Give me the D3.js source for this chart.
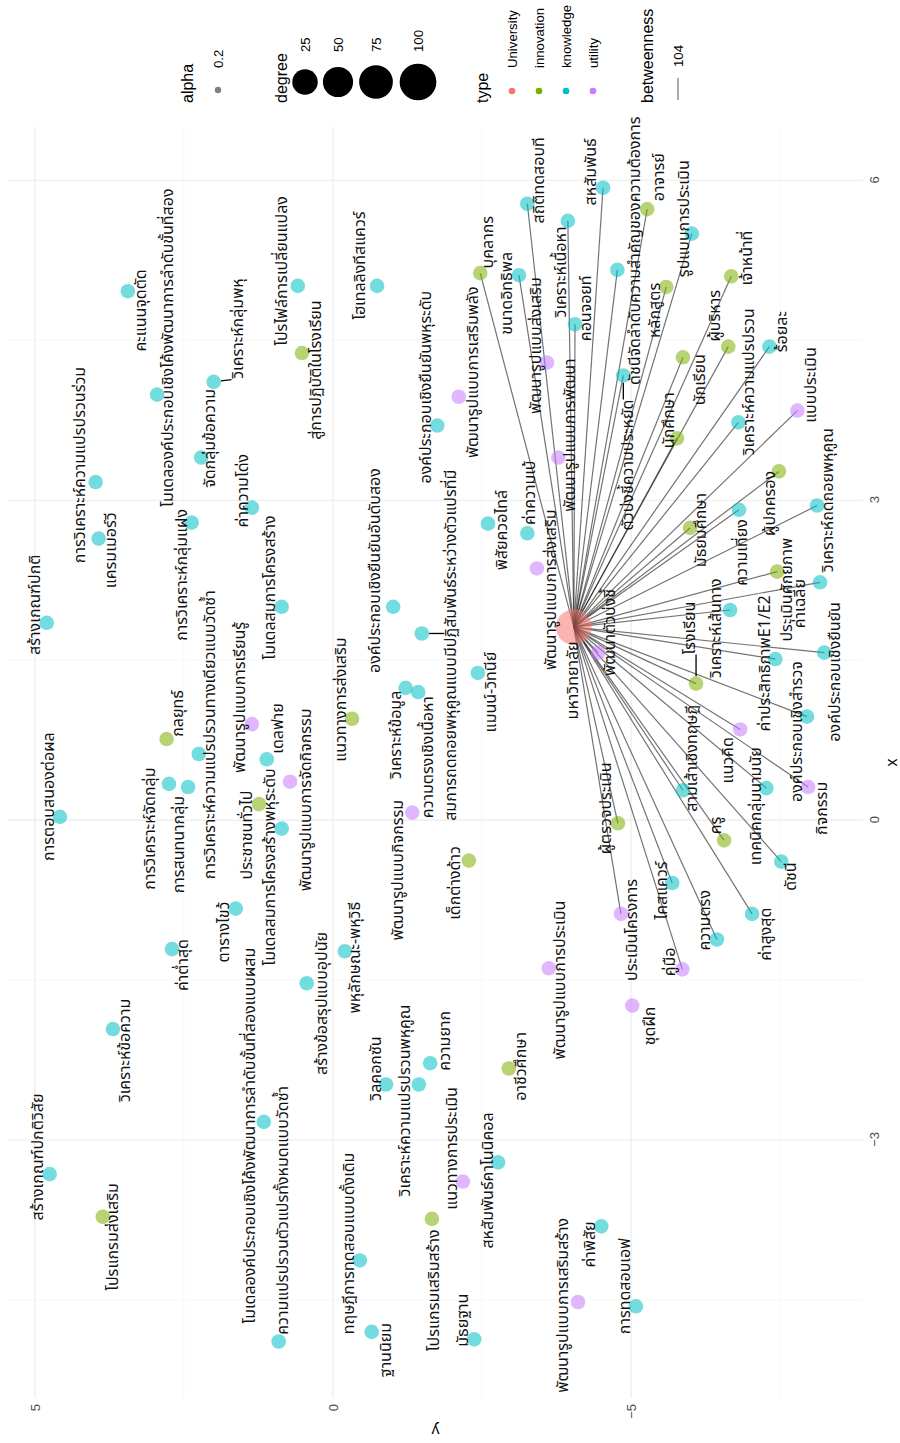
<!DOCTYPE html>
<html>
<head>
<meta charset="utf-8">
<script src="https://cdn.jsdelivr.net/npm/d3@7"></script>
<style>
  body { margin: 0; background: #fff; }
  text { font-family: "Liberation Sans", Arial, sans-serif; }
  .lab { font-family: "Noto Sans Thai", "Noto Sans", "DejaVu Sans", sans-serif; }
</style>
</head>
<body>
<div id="plot"></div>
<script>
// ---- data (layout coordinates from the graph layout) ----
const nodeNames = [
  'มหาวิทยาลัย', 'คะแนนจุดตัด', 'โมเดลองค์ประกอบเชิงโค้งพัฒนาการลำดับขั้นที่สอง', 'การวิเคราะห์ความแปรปรวนร่วม',
  'แครมเมอร์วี', 'การวิเคราะห์กลุ่มแฝง', 'จัดกลุ่มข้อความ', 'วิเคราะห์กลุ่มพหุ', 'ค่าความโด่ง', 'โปรไฟล์การเปลี่ยนแปลง',
  'สู่การปฏิบัติในโรงเรียน', 'โฮเทลลิงทีสแควร์', 'องค์ประกอบเชิงยืนยันพหุระดับ', 'องค์ประกอบเชิงยืนยันอันดับสอง',
  'โมเดลสมการโครงสร้าง', 'สร้างเกณฑ์ปกติ', 'สมการถดถอยพหุคูณแบบมีปฏิสัมพันธ์ระหว่างตัวแปรที่มี', 'วิเคราะห์ข้อมูล',
  'ความตรงเชิงเนื้อหา', 'พัฒนารูปแบบกิจกรรม', 'แนวทางการส่งเสริม', 'พัฒนารูปแบบการเรียนรู้', 'เดลฟาย',
  'พัฒนารูปแบบการจัดกิจกรรม', 'ประชาชนทั่วไป', 'โมเดลสมการโครงสร้างพหุระดับ', 'การวิเคราะห์ความแปรปรวนทางเดียวแบบวัดซ้ำ',
  'กลยุทธ์', 'การวิเคราะห์จัดกลุ่ม', 'การสนทนากลุ่ม', 'การตอบสนองต่อผล', 'ตารางไขว้', 'ค่าต่ำสุด', 'พหุลักษณะ-พหุวิธี',
  'สร้างข้อสรุปแบบอุปนัย', 'วิเคราะห์ข้อความ', 'สร้างเกณฑ์ปกติวิสัย', 'โปรแกรมส่งเสริม',
  'โมเดลองค์ประกอบเชิงโค้งพัฒนาการลำดับขั้นที่สองแบบผสม', 'ความแปรปรวนตัวแปรทั้งหมดแบบวัดซ้ำ', 'วิลคอกซัน',
  'วิเคราะห์ความแปรปรวนพหุคูณ', 'ความยาก', 'ทฤษฎีการทดสอบแบบดั้งเดิม', 'ฐานนิยม', 'โปรแกรมเสริมสร้าง', 'ชุดฝึก',
  'อาชีวศึกษา', 'พัฒนารูปแบบการประเมิน', 'แนวทางการประเมิน', 'สหสัมพันธ์คาโนนิคอล', 'มัธยฐาน', 'ค่าพิสัย',
  'พัฒนารูปแบบการเสริมสร้าง', 'การทดสอบเอฟ', 'พัฒนาตัวบ่งชี้', 'พัฒนารูปแบบการส่งเสริม', 'แมนน์-วิทนีย์',
  'เด็กต่างด้าว', 'พิสัยควอไทล์', 'ผู้ตรวจประเมิน', 'ประเมินโครงการ', 'ไคสแควร์', 'คู่มือ', 'ความตรง', 'ค่าสูงสุด',
  'ครู', 'ดัชนี', 'สามเส้าเชิงทฤษฎี', 'เทคนิคกลุ่มนามนัย', 'แนวคิด', 'กิจกรรม', 'โรงเรียน', 'วิเคราะห์เส้นทาง',
  'ค่าประสิทธิภาพE1/E2', 'องค์ประกอบเชิงสำรวจ', 'องค์ประกอบเชิงยืนยัน', 'ค่าเฉลี่ย', 'ประเมินศักยภาพ',
  'วิเคราะห์ถดถอยพหุคูณ', 'ความเที่ยง', 'มัธยมศึกษา', 'ผู้ปกครอง', 'แบบประเมิน', 'วิเคราะห์ความแปรปรวน',
  'นักศึกษา', 'ร้อยละ', 'นักเรียน', 'ผู้บริหาร', 'เจ้าหน้าที่', 'หลักสูตร', 'รูปแบบการประเมิน', 'อาจารย์',
  'ดัชนีจัดลำดับความสำคัญของความต้องการ', 'สหสัมพันธ์', 'คอนจอยท์', 'วิเคราะห์เนื้อหา', 'พัฒนารูปแบบการพัฒนา',
  'พัฒนารูปแบบส่งเสริม', 'สถิติทดสอบที', 'ขนาดอิทธิพล', 'บุคลากร', 'พัฒนารูปแบบการเสริมพลัง', 'ค่าความเบ้',
  'ตัวบ่งชี้ความประหยัด'
];

// U = University, I = innovation, K = knowledge, T = utility
const nodeTypeCodes = [
  'U','K','K','K','K','K','K','K','K','K',
  'I','K','K','K','K','K','K','K','K','T',
  'I','T','K','T','I','K','K','I','K','K',
  'K','K','K','K','K','K','K','I','K','K',
  'K','K','K','K','K','I','T','I','T','T',
  'K','K','K','T','K','T','T','K','I','K',
  'I','T','K','T','K','K','I','K','K','K',
  'T','T','I','K','K','K','K','K','I','K',
  'K','I','I','T','K','I','K','I','I','I',
  'I','K','I','K','K','K','K','T','T','K',
  'K','I','T','K','K'
];

const nodeX = [
  1.81, 4.96, 3.99, 3.17, 2.64, 2.79, 3.40, 4.11, 2.93, 5.01,
  4.38, 5.01, 3.70, 2.00, 2.00, 1.85, 1.75, 1.24, 1.20, 0.07,
  0.95, 0.90, 0.57, 0.36, 0.15, -0.08, 0.62, 0.76, 0.34, 0.31,
  0.03, -0.83, -1.21, -1.23, -1.53, -1.96, -3.32, -3.72, -2.83, -4.89,
  -2.48, -2.48, -2.28, -4.13, -4.80, -3.74, -1.74, -2.33, -1.39, -3.39,
  -3.21, -4.87, -3.81, -4.52, -4.56, 1.57, 2.36, 1.38, -0.38, 2.78,
  -0.03, -0.88, -0.59, -1.40, -1.12, -0.88, -0.19, -0.39, 0.28, 0.30,
  0.85, 0.31, 1.28, 1.97, 1.51, 0.97, 1.57, 2.23, 2.33, 2.95,
  2.91, 2.74, 3.27, 3.84, 3.73, 3.58, 4.44, 4.34, 4.44, 5.10,
  5.00, 5.50, 5.73, 5.16, 5.93, 4.65, 5.62, 3.40, 4.29, 5.78,
  5.11, 5.13, 3.97, 2.69, 4.17
];

const nodeY = [
  -4.04, 3.44, 2.95, 3.98, 3.93, 2.37, 2.21, 2.00, 1.36, 0.59,
  0.52, -0.74, -1.75, -1.01, 0.86, 4.80, -1.49, -1.22, -1.43, -1.33,
  -0.32, 1.36, 1.11, 0.72, 1.24, 0.86, 2.25, 2.79, 2.75, 2.43,
  4.58, 1.63, 2.70, -0.20, 0.44, 3.69, 4.75, 3.86, 1.16, 0.91,
  -0.89, -1.44, -1.63, -0.45, -0.65, -1.66, -5.02, -2.95, -3.62, -2.18,
  -2.77, -2.37, -4.50, -4.11, -5.08, -4.45, -3.42, -2.43, -2.28, -2.60,
  -4.78, -4.83, -5.69, -5.86, -6.44, -7.03, -6.56, -7.52, -5.87, -7.27,
  -6.83, -7.97, -6.09, -6.66, -7.42, -7.95, -8.24, -8.17, -7.45, -8.12,
  -6.81, -5.99, -7.48, -7.79, -6.80, -5.77, -7.32, -5.87, -6.63, -6.68,
  -5.59, -6.02, -5.27, -4.77, -4.53, -4.06, -3.94, -3.78, -3.59, -3.26,
  -3.12, -2.47, -2.11, -3.26, -4.87
];

// where the repelled labels ended up
const labelX = [
  1.31, 4.78, 4.43, 3.33, 2.53, 2.30, 3.58, 4.61, 3.09, 5.15,
  4.22, 5.20, 4.06, 2.34, 2.18, 2.02, 1.64, 0.80, 0.59, -0.47,
  1.13, 1.15, 0.86, 0.19, -0.14, -0.44, 0.80, 1.00, -0.08, -0.23,
  0.22, -1.05, -1.36, -1.29, -1.72, -2.16, -3.16, -3.91, -2.96, -3.66,
  -2.33, -2.63, -2.07, -3.97, -4.97, -4.41, -1.93, -2.31, -1.50, -3.08,
  -3.38, -4.69, -3.98, -4.55, -4.37, 1.76, 2.16, 1.20, -0.59, 2.72,
  0.11, -1.03, -0.66, -1.33, -0.94, -1.07, -0.05, -0.53, 0.58, 0.13,
  0.56, 0.11, 1.80, 1.80, 1.47, 0.83, 1.39, 2.03, 2.16, 3.00,
  2.51, 2.72, 2.97, 4.08, 4.11, 3.75, 4.58, 4.13, 4.73, 5.27,
  4.78, 5.64, 6.03, 5.34, 6.08, 4.80, 5.14, 3.61, 4.45, 6.00,
  4.94, 5.42, 4.20, 3.07, 3.33
];

const labelY = [
  -4.03, 3.22, 2.77, 4.25, 3.72, 2.53, 2.06, 1.59, 1.51, 0.86,
  0.29, -0.45, -1.56, -0.70, 1.06, 5.00, -1.98, -1.06, -1.59, -1.09,
  -0.13, 1.56, 0.92, 0.45, 1.44, 1.06, 2.06, 2.60, 3.07, 2.58,
  4.77, 1.83, 2.52, -0.37, 0.18, 3.49, 4.95, 3.69, 1.39, 0.84,
  -0.72, -1.21, -1.88, -0.27, -0.89, -1.69, -5.32, -3.15, -3.81, -2.00,
  -2.60, -2.18, -4.31, -3.86, -4.90, -4.65, -3.66, -2.65, -2.05, -2.84,
  -4.58, -5.02, -5.52, -5.65, -6.24, -7.27, -6.43, -7.68, -6.02, -7.10,
  -6.63, -8.20, -5.99, -6.43, -7.25, -7.79, -8.42, -7.84, -7.62, -8.31,
  -6.86, -6.17, -7.33, -8.02, -6.98, -5.64, -7.53, -6.16, -6.41, -6.95,
  -5.40, -5.89, -5.47, -5.07, -4.33, -4.25, -3.83, -3.98, -3.41, -3.46,
  -2.92, -2.60, -2.35, -3.31, -4.95
];

const nodeDegree = [
  90, 1, 1, 1, 1, 1, 1, 1, 1, 1,
  1, 1, 1, 1, 1, 1, 1, 1, 1, 1,
  1, 1, 1, 1, 1, 1, 1, 1, 1, 1,
  1, 1, 1, 1, 1, 1, 1, 1, 1, 1,
  1, 1, 1, 1, 1, 1, 1, 1, 1, 1,
  1, 1, 1, 1, 1, 1, 1, 1, 1, 1,
  1, 1, 1, 1, 1, 1, 1, 1, 1, 1,
  1, 1, 1, 1, 1, 1, 1, 1, 1, 1,
  1, 1, 1, 1, 1, 1, 1, 1, 1, 1,
  1, 1, 1, 1, 1, 1, 1, 1, 1, 1,
  1, 1, 1, 1, 1
];

// every edge starts at the university node
const edgeTargets = [
  'พัฒนาตัวบ่งชี้', 'ผู้ตรวจประเมิน', 'ประเมินโครงการ', 'ไคสแควร์', 'คู่มือ', 'ความตรง', 'ค่าสูงสุด', 'ครู', 'ดัชนี',
  'สามเส้าเชิงทฤษฎี', 'เทคนิคกลุ่มนามนัย', 'แนวคิด', 'กิจกรรม', 'โรงเรียน', 'วิเคราะห์เส้นทาง', 'ค่าประสิทธิภาพE1/E2',
  'องค์ประกอบเชิงสำรวจ', 'องค์ประกอบเชิงยืนยัน', 'ค่าเฉลี่ย', 'ประเมินศักยภาพ', 'วิเคราะห์ถดถอยพหุคูณ', 'ความเที่ยง',
  'มัธยมศึกษา', 'ผู้ปกครอง', 'แบบประเมิน', 'วิเคราะห์ความแปรปรวน', 'นักศึกษา', 'ร้อยละ', 'นักเรียน', 'ผู้บริหาร',
  'เจ้าหน้าที่', 'หลักสูตร', 'รูปแบบการประเมิน', 'อาจารย์', 'ดัชนีจัดลำดับความสำคัญของความต้องการ', 'สหสัมพันธ์',
  'คอนจอยท์', 'วิเคราะห์เนื้อหา', 'สถิติทดสอบที', 'ขนาดอิทธิพล', 'บุคลากร', 'ตัวบ่งชี้ความประหยัด'
];
const edgeBetweenness = [104];

// labels that got a repel segment
const segmentLabels = ['วิเคราะห์กลุ่มพหุ', 'สู่การปฏิบัติในโรงเรียน',
  'สมการถดถอยพหุคูณแบบมีปฏิสัมพันธ์ระหว่างตัวแปรที่มี', 'โรงเรียน', 'ตัวบ่งชี้ความประหยัด'];

const typeNames = ['University', 'innovation', 'knowledge', 'utility'];
const typeCodeMap = { U: 'University', I: 'innovation', K: 'knowledge', T: 'utility' };
const degreeBreaks = [25, 50, 75, 100];
const alphaBreaks = [0.2];
const xTicks = [-3, 0, 3, 6];
const xMinor = [-4.5, -1.5, 1.5, 4.5];
const yTicks = [-5, 0, 5];
const yMinor = [-7.5, -2.5, 2.5];

// ---- build ----
const nodes = nodeNames.map((name, i) => ({
  name: name,
  type: typeCodeMap[nodeTypeCodes[i]],
  x: nodeX[i], y: nodeY[i],
  lx: labelX[i], ly: labelY[i],
  degree: nodeDegree[i]
}));
const byName = {};
nodes.forEach(n => { byName[n.name] = n; });
const hub = nodes[0];
const edges = edgeTargets.map(t => ({ source: hub, target: byName[t], betweenness: edgeBetweenness[0] }));

// chart is drawn landscape (1443 x 900) then turned a quarter turn
let W = 1443, H = 900;
let panel = { left: 45, right: 1316, top: 8, bottom: 863 };

let svg = d3.select('#plot')
  .append('svg')
    .attr('width', H)
    .attr('height', W)
    .style('background', '#FFFFFF');

let g = svg.append('g')
  .attr('transform', `translate(0,${W}) rotate(-90)`);

let xScale = d3.scaleLinear().domain([-5.42, 6.50]).range([panel.left, panel.right]);
let yScale = d3.scaleLinear().domain([-8.89, 5.45]).range([panel.bottom, panel.top]);

let color = d3.scaleOrdinal().domain(typeNames).range(['#F8766D', '#7CAE00', '#00BFC4', '#C77CFF']);

// size: ggplot style area scale on top of the smallest point
let sizeBase = 7.3;
let sizeExtra = d3.scaleSqrt().domain([0, d3.max(nodeDegree) - d3.min(nodeDegree)]).range([0, 10.5]);
let radius = d => sizeBase + sizeExtra(d - d3.min(nodeDegree));

let edgeWidth = d3.scaleLinear().domain([0, d3.max(edgeBetweenness)]).range([0, 1.2]);

// grid
let grid = g.append('g');
grid.selectAll('.xminor').data(xMinor).enter().append('line')
  .attr('x1', d => xScale(d)).attr('x2', d => xScale(d))
  .attr('y1', panel.top).attr('y2', panel.bottom)
  .attr('stroke', '#F2F2F2').attr('stroke-width', 0.6);
grid.selectAll('.yminor').data(yMinor).enter().append('line')
  .attr('y1', d => yScale(d)).attr('y2', d => yScale(d))
  .attr('x1', panel.left).attr('x2', panel.right)
  .attr('stroke', '#F2F2F2').attr('stroke-width', 0.6);
grid.selectAll('.xmajor').data(xTicks).enter().append('line')
  .attr('x1', d => xScale(d)).attr('x2', d => xScale(d))
  .attr('y1', panel.top).attr('y2', panel.bottom)
  .attr('stroke', '#EBEBEB').attr('stroke-width', 1.1);
grid.selectAll('.ymajor').data(yTicks).enter().append('line')
  .attr('y1', d => yScale(d)).attr('y2', d => yScale(d))
  .attr('x1', panel.left).attr('x2', panel.right)
  .attr('stroke', '#EBEBEB').attr('stroke-width', 1.1);

// axes
let xAxis = g.append('g')
  .attr('transform', `translate(0,${panel.bottom})`)
  .call(d3.axisBottom(xScale).tickValues(xTicks).tickSize(0).tickPadding(7).tickFormat(d3.format('d')));
let yAxis = g.append('g')
  .attr('transform', `translate(${panel.left},0)`)
  .call(d3.axisLeft(yScale).tickValues(yTicks).tickSize(0).tickPadding(6).tickFormat(d3.format('d')));
[xAxis, yAxis].forEach(a => {
  a.select('.domain').remove();
  a.selectAll('text')
    .attr('fill', '#4D4D4D')
    .attr('font-size', '13px')
    .attr('font-family', '"Liberation Sans", Arial, sans-serif');
});

g.append('text')
  .attr('x', (panel.left + panel.right) / 2)
  .attr('y', 897)
  .attr('text-anchor', 'middle')
  .attr('font-size', '16px')
  .attr('fill', 'black')
  .text('x');
g.append('text')
  .attr('transform', `translate(18,${(panel.top + panel.bottom) / 2}) rotate(-90)`)
  .attr('text-anchor', 'middle')
  .attr('font-size', '16px')
  .attr('fill', 'black')
  .text('y');

// edges
g.append('g').selectAll('line').data(edges).enter().append('line')
  .attr('x1', d => xScale(d.source.x)).attr('y1', d => yScale(d.source.y))
  .attr('x2', d => xScale(d.target.x)).attr('y2', d => yScale(d.target.y))
  .attr('stroke', '#000')
  .attr('stroke-opacity', 0.55)
  .attr('stroke-width', d => edgeWidth(d.betweenness));

// nodes
g.append('g').selectAll('circle').data(nodes).enter().append('circle')
  .attr('cx', d => xScale(d.x))
  .attr('cy', d => yScale(d.y))
  .attr('r', d => radius(d.degree))
  .attr('fill', d => color(d.type))
  .attr('fill-opacity', 0.55);

// labels
let segLayer = g.append('g');
let labels = g.append('g').selectAll('text').data(nodes).enter().append('text')
  .attr('class', 'lab')
  .attr('x', d => xScale(d.lx))
  .attr('y', d => yScale(d.ly))
  .attr('text-anchor', 'middle')
  .attr('dominant-baseline', 'central')
  .attr('font-size', '16px')
  .attr('fill', '#111')
  .text(d => d.name);

// repel segments: from the point edge to the nearest side of the (glyph) label box
labels.filter(d => segmentLabels.includes(d.name)).each(function(d) {
  let b = this.getBBox();
  let inset = b.height * 0.22;
  let top = b.y + inset, bot = b.y + b.height - inset;
  let px = xScale(d.x), py = yScale(d.y);
  let qx = Math.max(b.x, Math.min(px, b.x + b.width));
  let qy = Math.max(top, Math.min(py, bot));
  let dist = Math.hypot(qx - px, qy - py);
  let r = radius(d.degree);
  if (dist > r) {
    segLayer.append('line')
      .attr('x1', px + (qx - px) * r / dist).attr('y1', py + (qy - py) * r / dist)
      .attr('x2', qx).attr('y2', qy)
      .attr('stroke', 'black').attr('stroke-width', 1.3);
  }
});

// legend
let legend = g.append('g').attr('transform', 'translate(1340,0)');
let titleStyle = s => s.attr('font-size', '16px').attr('fill', 'black');
let labelStyle = s => s.attr('font-size', '13.2px').attr('fill', 'black').attr('dominant-baseline', 'central');

legend.append('text').attr('x', 0).attr('y', 193).call(titleStyle).text('alpha');
legend.selectAll('.ak').data(alphaBreaks).enter().append('circle')
  .attr('cx', 13).attr('cy', 218).attr('r', 3.2).attr('fill', '#000').attr('fill-opacity', 0.5);
legend.selectAll('.al').data(alphaBreaks).enter().append('text')
  .attr('x', 35).attr('y', 218).call(labelStyle).text(d => d);

let degreeY = [305, 338, 376, 418];
legend.append('text').attr('x', 0).attr('y', 287).call(titleStyle).text('degree');
legend.selectAll('.dk').data(degreeBreaks).enter().append('circle')
  .attr('cx', 21).attr('cy', (d, i) => degreeY[i]).attr('r', d => radius(d)).attr('fill', 'black');
legend.selectAll('.dl').data(degreeBreaks).enter().append('text')
  .attr('x', 51).attr('y', (d, i) => degreeY[i]).call(labelStyle).text(d => d);

legend.append('text').attr('x', 0).attr('y', 488).call(titleStyle).text('type');
legend.selectAll('.tk').data(typeNames).enter().append('circle')
  .attr('cx', 12).attr('cy', (d, i) => 512 + i * 27).attr('r', 3.3).attr('fill', d => color(d));
legend.selectAll('.tl').data(typeNames).enter().append('text')
  .attr('x', 35).attr('y', (d, i) => 512 + i * 27).call(labelStyle).text(d => d);

legend.append('text').attr('x', 0).attr('y', 653).call(titleStyle).text('betweenness');
legend.selectAll('.bk').data(edgeBetweenness).enter().append('line')
  .attr('x1', 3).attr('x2', 25).attr('y1', 678).attr('y2', 678)
  .attr('stroke', '#000').attr('stroke-opacity', 0.55).attr('stroke-width', d => edgeWidth(d));
legend.selectAll('.bl').data(edgeBetweenness).enter().append('text')
  .attr('x', 36).attr('y', 678).call(labelStyle).text(d => d);
</script>
</body>
</html>
